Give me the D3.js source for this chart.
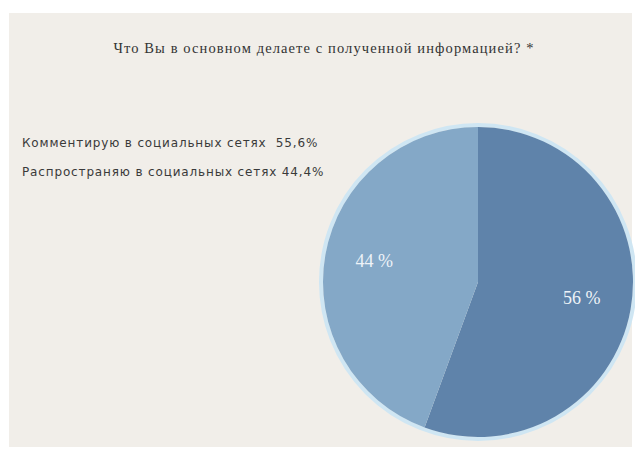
<!DOCTYPE html>
<html>
<head>
<meta charset="utf-8">
<script src="https://cdn.jsdelivr.net/npm/d3@7"></script>
<style>
  html, body { margin: 0; padding: 0; background: #fff; }
  text.legend { white-space: pre; }
</style>
</head>
<body>
<svg id="chart" width="635" height="450"></svg>
<script>
const title = 'Что Вы в основном делаете с полученной информацией? *'
const categories = ['Комментирую в социальных сетях', 'Распространяю в социальных сетях']
const values = [55.6, 44.4]
const legendLabels = ['Комментирую в социальных сетях  55,6%', 'Распространяю в социальных сетях 44,4%']
const sliceLabels = ['56 %', '44 %']
const colors = ['#5f83aa', '#84a8c7']

const svg = d3.select('#chart')

// paper background
svg.append('rect')
  .attr('x', 9).attr('y', 13)
  .attr('width', 623).attr('height', 434)
  .attr('fill', '#f1eee9')

svg.append('text')
  .attr('x', 324).attr('y', 53)
  .attr('text-anchor', 'middle')
  .attr('font-family', 'Liberation Serif, DejaVu Serif, serif')
  .attr('font-size', 14.5)
  .attr('letter-spacing', 1.1)
  .attr('fill', '#333')
  .text(title)

svg.selectAll('text.legend')
  .data(legendLabels)
  .enter()
  .append('text')
  .attr('class', 'legend')
  .attr('x', 22)
  .attr('y', (d, i) => 147 + i * 29)
  .attr('font-family', 'DejaVu Sans, Verdana, sans-serif')
  .attr('font-size', 12)
  .attr('letter-spacing', 0.85)
  .attr('fill', '#3a3a3a')
  .text((d) => d)

const cx = 478
const cy = 282
const r = 155

const pie = d3.pie().sort(null).value((d) => d)
const arcs = pie(values)
const arc = d3.arc().innerRadius(0).outerRadius(r)
const labelArc = d3.arc().innerRadius(r * 0.68).outerRadius(r * 0.68)

const g = svg.append('g').attr('transform', `translate(${cx},${cy})`)

// soft glow round the pie
g.append('circle')
  .attr('r', r + 2)
  .attr('fill', 'none')
  .attr('stroke', '#cfe6f3')
  .attr('stroke-width', 4)

g.selectAll('path.slice')
  .data(arcs)
  .enter()
  .append('path')
  .attr('class', 'slice')
  .attr('d', arc)
  .attr('fill', (d, i) => colors[i])

g.selectAll('text.pct')
  .data(arcs)
  .enter()
  .append('text')
  .attr('class', 'pct')
  .attr('transform', (d) => {
    const c = labelArc.centroid(d)
    return `translate(${c[0]},${c[1]})`
  })
  .attr('text-anchor', 'middle')
  .attr('dy', '0.2em')
  .attr('font-family', 'Liberation Serif, DejaVu Serif, serif')
  .attr('font-size', 18)
  .attr('fill', '#eef3f8')
  .text((d, i) => sliceLabels[i])
</script>
</body>
</html>
